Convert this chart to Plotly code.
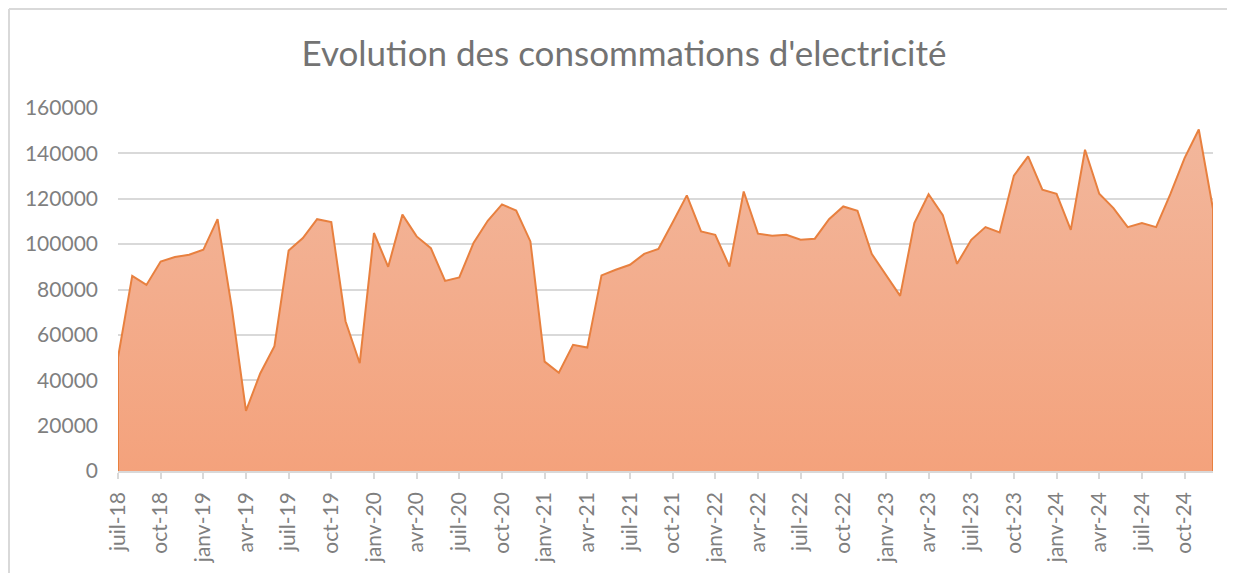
import plotly.graph_objects as go

month_abbr = ["juil", "août", "sept", "oct", "nov", "déc",
              "janv", "févr", "mars", "avr", "mai", "juin"]
start_year = 18
n_months = 78
months = []
for i in range(n_months):
    m = month_abbr[i % 12]
    yr = start_year + (i + 6) // 12
    months.append(f"{m}-{yr}")

consommation = [
    50000, 86000, 82000, 92300, 94300, 95300, 97500, 111000, 72000, 26500,
    43000, 55000, 97200, 102700, 111000, 109700, 66000, 47500, 104900, 90000,
    113000, 103400, 98200, 83800, 85300, 100500, 110300, 117500, 114800, 101200,
    48200, 43300, 55600, 54400, 86200, 88700, 90900, 95700, 97900, 109500,
    121500, 105600, 104100, 90100, 123200, 104600, 103700, 104100, 101900, 102400,
    111000, 116600, 114700, 95700, 86500, 77200, 109300, 122000, 112800, 91300,
    101900, 107500, 105200, 130200, 138700, 124000, 122200, 106300, 141600, 122200,
    115900, 107500, 109300, 107500, 122000, 137900, 150500, 115500,
]

y_ticks = [0, 20000, 40000, 60000, 80000, 100000, 120000, 140000, 160000]
title_text = "Evolution des consommations d'electricité"

idx = list(range(len(consommation)))
tick_idx = idx[::3]
tick_lbl = [months[i] for i in tick_idx]

# page body has an 8px margin; positions below are figure coordinates
OFF = 8
W, H = 1235, 573
ml = 118 - OFF
mt = 108 - OFF
mr = W - (1213 - OFF)
mb = H - (471 - OFF)

fig = go.Figure()
fig.add_trace(go.Scatter(
    x=idx, y=consommation, mode="lines", line=dict(width=0),
    fill="tozeroy",
    fillgradient=dict(type="vertical", start=0, stop=160000,
                      colorscale=[[0, "#f4a27c"], [1, "#f2b89e"]]),
    hoverinfo="skip", showlegend=False,
))
# outline including vertical edges
fig.add_trace(go.Scatter(
    x=[idx[0]] + idx + [idx[-1]],
    y=[0] + consommation + [0],
    mode="lines", line=dict(color="#e8803f", width=2),
    showlegend=False,
))

pw = W - ml - mr
ph = H - mt - mb
bx = (1 - ml) / pw
by_top = (H - 1 - mb) / ph
by_bot = (0 - mb) / ph
fig.add_shape(type="line", xref="paper", yref="paper",
              x0=bx, x1=(W - ml) / pw, y0=by_top, y1=by_top,
              line=dict(color="#d9d9d9", width=2))
fig.add_shape(type="line", xref="paper", yref="paper",
              x0=bx, x1=bx, y0=by_top, y1=by_bot,
              line=dict(color="#d9d9d9", width=2))

fig.update_layout(
    width=W, height=H,
    margin=dict(l=ml, r=mr, t=mt, b=mb),
    paper_bgcolor="white", plot_bgcolor="white",
    title=dict(text=title_text, x=(624 - OFF) / W, xref="container", xanchor="center",
               y=1 - (54 - OFF) / H, yref="container", yanchor="middle",
               font=dict(family="Lato", size=35, color="#737373")),
    xaxis=dict(range=[0, len(consommation) - 1], tickvals=tick_idx, ticktext=tick_lbl,
               tickangle=-90, showgrid=False, zeroline=False,
               showline=True, linecolor="#d9d9d9", linewidth=1.5,
               ticks="outside", ticklen=6, tickcolor="#d9d9d9", tickwidth=1.5,
               ticklabelstandoff=5,
               tickfont=dict(family="Lato", size=21, color="#7f7f7f")),
    yaxis=dict(range=[0, 160000], tickvals=y_ticks, showgrid=True,
               gridcolor="#d9d9d9", gridwidth=2, zeroline=False,
               showline=False, ticks="", ticklabelstandoff=19,
               tickformat="d",
               tickfont=dict(family="Lato", size=21, color="#7f7f7f")),
)
fig.update_layout(xaxis_layer="above traces")

fig.write_html("out.html")
